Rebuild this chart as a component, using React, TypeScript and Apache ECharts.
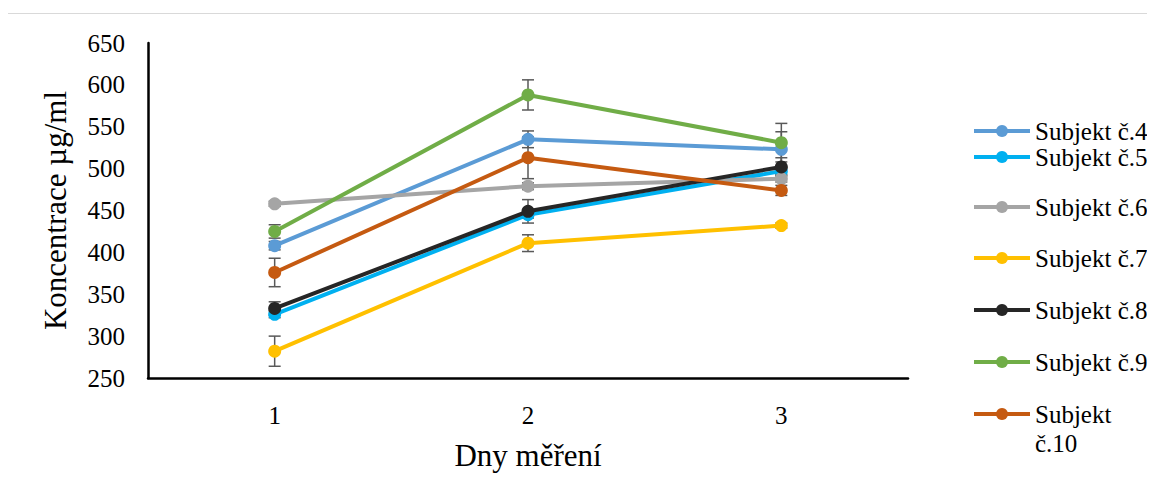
import React, { useEffect, useRef } from "react";
import * as echarts from "echarts";

const days = ["1", "2", "3"];
const subjects = [
  "Subjekt č.4",
  "Subjekt č.5",
  "Subjekt č.6",
  "Subjekt č.7",
  "Subjekt č.8",
  "Subjekt č.9",
  "Subjekt č.10",
];
const colors = ["#5B9BD5", "#00B0F0", "#A5A5A5", "#FFC000", "#262626", "#70AD47", "#C55A11"];

const s4 = [408, 535, 523];
const s5 = [326, 445, 497];
const s6 = [458, 479, 488];
const s7 = [282, 411, 432];
const s8 = [333, 449, 502];
const s9 = [425, 588, 531];
const s10 = [376, 513, 474];
const values = [s4, s5, s6, s7, s8, s9, s10];

const e4 = [5, 10, 21];
const e5 = [4, 4, 4];
const e6 = [3, 4, 4];
const e7 = [18, 10, 3];
const e8 = [8, 14, 11];
const e9 = [8, 18, 23];
const e10 = [17, 25, 6];
const errors = [e4, e5, e6, e7, e8, e9, e10];

const yTicks = { min: 250, max: 650, interval: 50 };
const legendCenters = [131, 157, 207, 258, 310, 362, 414];

const FONT = "Liberation Serif";

export default function App() {
  const ref = useRef<HTMLDivElement>(null);
  useEffect(() => {
    if (!ref.current) return;
    const chart = echarts.init(ref.current, null, { renderer: "svg" });
    const errData: number[][] = [];
    values.forEach((vals, s) => {
      vals.forEach((v, d) => errData.push([d, v, errors[s][d]]));
    });
    const lineSeries = subjects.map((name, i) => ({
      name,
      type: "line",
      data: values[i],
      z: 3 + i,
      symbol: "circle",
      symbolSize: 13,
      lineStyle: { width: 4, color: colors[i] },
      itemStyle: { color: colors[i] },
    }));
    const legends = subjects.map((name, i) => {
      const multi = name === "Subjekt č.10";
      return {
        data: [name],
        left: 972,
        top: legendCenters[i] - (multi ? 43.5 : 14.5),
        orient: "vertical",
        itemWidth: 56,
        itemHeight: 15,
        padding: 0,
        lineStyle: { width: 4 },
        formatter: (n: string) => (n === "Subjekt č.10" ? " \nSubjekt\nč.10" : n),
        textStyle: { fontFamily: FONT, fontSize: 25, color: "#000", lineHeight: 29 },
        selectedMode: false,
      };
    });
    chart.setOption({
      animation: false,
      textStyle: { fontFamily: FONT },
      grid: { left: 148, right: 247, top: 43, bottom: 119 },
      legend: legends,
      xAxis: {
        type: "category",
        data: days,
        name: "Dny měření",
        nameLocation: "middle",
        nameGap: 62,
        nameTextStyle: { fontFamily: FONT, fontSize: 31, color: "#000" },
        axisLine: { lineStyle: { color: "#000", width: 2.5 } },
        axisTick: { show: false },
        axisLabel: { fontFamily: FONT, fontSize: 25, color: "#000", margin: 25 },
      },
      yAxis: {
        type: "value",
        min: yTicks.min,
        max: yTicks.max,
        interval: yTicks.interval,
        name: "Koncentrace µg/ml",
        nameLocation: "middle",
        nameGap: 77,
        nameRotate: 90,
        nameTextStyle: { fontFamily: FONT, fontSize: 31, color: "#000" },
        axisLine: { show: true, lineStyle: { color: "#000", width: 2.5 } },
        axisTick: { show: false },
        axisLabel: { fontFamily: FONT, fontSize: 25, color: "#000", margin: 23 },
        splitLine: { show: false },
      },
      series: [
        {
          type: "custom",
          name: "errors",
          z: 2,
          silent: true,
          data: errData,
          renderItem: (_p: any, api: any) => {
            const x = api.value(0);
            const y = api.value(1);
            const e = api.value(2);
            const top = api.coord([x, y + e]);
            const bot = api.coord([x, y - e]);
            const hw = 6;
            const style = { stroke: "#595959", lineWidth: 1.5 };
            return {
              type: "group",
              children: [
                { type: "line", shape: { x1: top[0], y1: top[1], x2: bot[0], y2: bot[1] }, style },
                { type: "line", shape: { x1: top[0] - hw, y1: top[1], x2: top[0] + hw, y2: top[1] }, style },
                { type: "line", shape: { x1: bot[0] - hw, y1: bot[1], x2: bot[0] + hw, y2: bot[1] }, style },
              ],
            };
          },
        },
        ...lineSeries,
      ],
    });
    return () => chart.dispose();
  }, []);
  return (
    <div style={{ margin: -8, width: 1155, height: 497, position: "relative", overflow: "hidden", background: "#fff" }}>
      <div
        style={{
          position: "absolute",
          left: 6,
          top: 13,
          width: 1160,
          height: 500,
          border: "1.5px solid #D9D9D9",
          boxSizing: "border-box",
        }}
      />
      <div ref={ref} style={{ width: 1155, height: 497, position: "relative" }} />
    </div>
  );
}
